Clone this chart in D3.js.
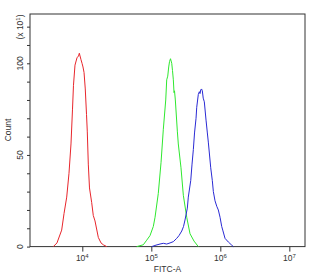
<!doctype html>
<html>
  <head>
    <meta charset="utf-8">
    <title>FITC-A histogram</title>
    <script src="https://cdn.jsdelivr.net/npm/d3@7"></script>
    <style>
      body { margin: 0; background: #fff; }
      text { font-family: "Liberation Sans", Arial, sans-serif; fill: #333; }
    </style>
  </head>
  <body>
    <script>
      // x values are log10(FITC-A), y values are counts (x10)
      const redLogX = [3.58, 3.633, 3.701, 3.735, 3.774, 3.807, 3.836, 3.858, 3.872, 3.894, 3.923, 3.945, 3.957, 3.967, 3.981, 3.996, 4.010, 4.025, 4.043, 4.061, 4.072, 4.087, 4.104, 4.136, 4.159, 4.184, 4.232, 4.271, 4.304, 4.354];
      const redCount = [0, 2, 9, 18, 27, 40, 56, 75, 88, 99, 103, 104, 105.5, 104, 102, 100, 98, 95, 86, 72, 63, 45, 32, 24, 17, 14, 5, 2, 1, 0];

      const greenLogX = [4.788, 4.884, 4.933, 4.981, 5.029, 5.054, 5.101, 5.141, 5.174, 5.209, 5.223, 5.238, 5.252, 5.264, 5.278, 5.296, 5.307, 5.319, 5.329, 5.336, 5.348, 5.377, 5.391, 5.430, 5.464, 5.513, 5.561, 5.619, 5.681];
      const greenCount = [0, 1, 3.5, 6, 11, 16, 29, 46, 64, 80, 91, 93, 98, 101, 102.5, 100, 96, 91, 84, 85, 80, 63, 56, 43, 28, 16, 7, 3, 0];

      const blueLogX = [5.006, 5.068, 5.126, 5.174, 5.223, 5.271, 5.319, 5.368, 5.401, 5.441, 5.467, 5.488, 5.522, 5.536, 5.571, 5.590, 5.609, 5.626, 5.648, 5.658, 5.681, 5.696, 5.706, 5.716, 5.728, 5.739, 5.752, 5.768, 5.793, 5.812, 5.826, 5.861, 5.884, 5.899, 5.923, 5.948, 5.971, 5.996, 6.020, 6.035, 6.068, 6.116, 6.165, 6.188];
      const blueCount = [0, 0.8, 1.4, 1.8, 1.4, 2, 2.7, 4.5, 6, 8.5, 11, 14.5, 21, 27, 36, 45, 53, 62, 70, 76, 83, 84.5, 83.5, 85.5, 86, 85, 81, 79, 69, 62, 57, 43, 36, 30, 25, 22, 20, 16, 11, 9, 4.5, 2.5, 0.8, 0];

      const xMajor = [4, 5, 6, 7];
      const yTicks = [0, 10, 20, 30, 40, 50, 60, 70, 80, 90, 100, 110, 120];
      const yLabels = [0, 50, 100];

      const width = 311;
      const height = 275;
      const margin = { top: 14, right: 6, bottom: 28.4, left: 30 };
      const plotW = width - margin.left - margin.right;
      const plotH = height - margin.top - margin.bottom;

      const svg = d3.select('body').append('svg')
          .attr('width', width)
          .attr('height', height);

      const g = svg.append('g')
          .attr('transform', `translate(${margin.left}, ${margin.top})`);

      const xScale = d3.scaleLog()
          .domain([Math.pow(10, 3.242), Math.pow(10, 7.227)])
          .range([0, plotW]);
      const yScale = d3.scaleLinear()
          .domain([0, 126.9])
          .range([plotH, 0]);

      // x ticks: 2..9 x 10^k minor, 10^k major
      const minorTicks = [];
      for (let k = 3; k <= 7; k++) {
        for (let m = 2; m <= 9; m++) {
          const v = m * Math.pow(10, k);
          if (v >= xScale.domain()[0] && v <= xScale.domain()[1]) minorTicks.push(v);
        }
      }
      const xAxisMinor = d3.axisBottom(xScale)
          .tickValues(minorTicks)
          .tickSize(3)
          .tickFormat('');
      const xAxisMajor = d3.axisBottom(xScale)
          .tickValues(xMajor.map(e => Math.pow(10, e)))
          .tickSize(5)
          .tickFormat('');

      const gx = g.append('g').attr('transform', `translate(0, ${plotH})`);
      gx.call(xAxisMinor);
      gx.call(xAxisMajor);
      gx.selectAll('.domain').remove();
      gx.selectAll('line').attr('stroke', '#333');

      const xLab = g.append('g').selectAll('text')
        .data(xMajor)
        .enter().append('text')
          .attr('x', d => xScale(Math.pow(10, d)))
          .attr('y', plotH + 14.5)
          .attr('text-anchor', 'middle')
          .attr('font-size', 8.5);
      xLab.append('tspan').text('10');
      xLab.append('tspan').text(d => d)
          .attr('font-size', 6)
          .attr('dy', -3.5);

      // y axis
      const yAxis = d3.axisLeft(yScale)
          .tickValues(yTicks)
          .tickSize(3)
          .tickFormat('');
      const gy = g.append('g').call(yAxis);
      gy.selectAll('.domain').remove();
      gy.selectAll('line').attr('stroke', '#333');

      g.append('g').selectAll('text')
        .data(yLabels)
        .enter().append('text')
          .attr('transform', d => `translate(-7, ${yScale(d)}) rotate(-90)`)
          .attr('text-anchor', 'middle')
          .attr('font-size', 8.5)
          .text(d => d);

      // frame
      g.append('rect')
          .attr('width', plotW)
          .attr('height', plotH)
          .attr('fill', 'none')
          .attr('stroke', '#333')
          .attr('stroke-width', 1);

      // curves
      const line = d3.line()
          .x(d => xScale(Math.pow(10, d[0])))
          .y(d => yScale(d[1]));

      const series = [
        { x: redLogX, y: redCount, color: '#e8262c' },
        { x: greenLogX, y: greenCount, color: '#2fe82f' },
        { x: blueLogX, y: blueCount, color: '#2a2ad4' }
      ];
      g.append('g').selectAll('path')
        .data(series)
        .enter().append('path')
          .attr('d', s => line(s.x.map((v, i) => [v, s.y[i]])))
          .attr('fill', 'none')
          .attr('stroke', s => s.color)
          .attr('stroke-width', 1);

      // labels
      svg.append('text')
          .attr('x', margin.left + plotW / 2)
          .attr('y', 272)
          .attr('text-anchor', 'middle')
          .attr('font-size', 8.5)
          .text('FITC-A');

      svg.append('text')
          .attr('transform', 'translate(11, 130) rotate(-90)')
          .attr('text-anchor', 'middle')
          .attr('font-size', 8.5)
          .text('Count');

      const mult = svg.append('text')
          .attr('transform', 'translate(23, 27) rotate(-90)')
          .attr('text-anchor', 'middle')
          .attr('font-size', 8.5);
      mult.append('tspan').text('(x 10');
      mult.append('tspan').text('1').attr('font-size', 6).attr('dy', -3.5);
      mult.append('tspan').text(')').attr('dy', 3.5);
    </script>
  </body>
</html>
